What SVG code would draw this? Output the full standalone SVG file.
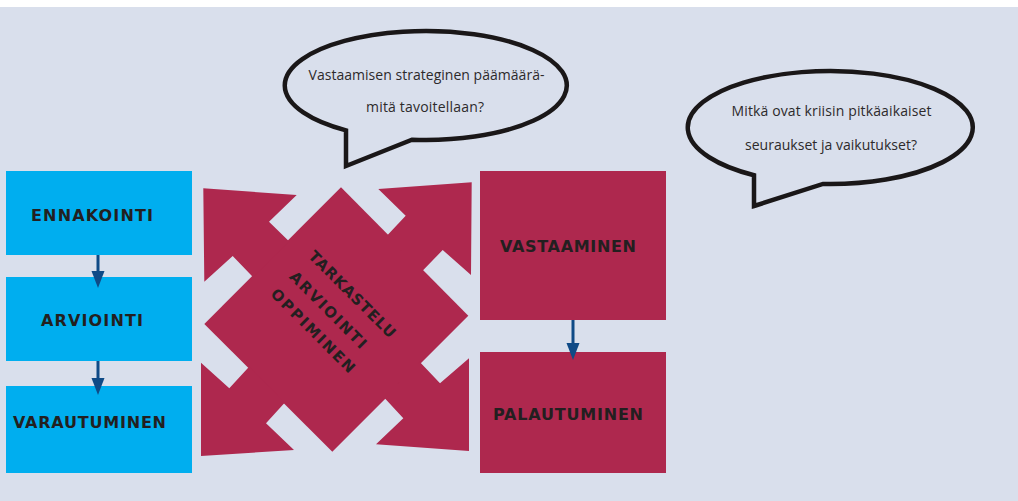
<svg xmlns="http://www.w3.org/2000/svg" width="1018" height="501" viewBox="0 0 1018 501">
<defs>
<style>
.blue{fill:#00aeef}
.red{fill:#ae284e}
.lbl{font-family:"DejaVu Sans","Noto Sans",sans-serif;font-weight:700;font-size:16px;fill:#231f20}
.ctr{font-family:"DejaVu Sans","Noto Sans",sans-serif;font-weight:700;font-size:15px;fill:#231f20;text-anchor:middle}
.bub{fill:#d9dfec;stroke:#1a1718;stroke-width:4.5;stroke-linejoin:miter}
.btxt{font-family:"Open Sans","Noto Sans","Liberation Sans",sans-serif;font-size:14px;fill:#2d2a2b;text-anchor:middle}
.conn{stroke:#0f4a86;stroke-width:3;fill:none}
</style>
<marker id="ah" viewBox="0 -7 17 14" markerWidth="17" markerHeight="14" refX="7" refY="0" markerUnits="userSpaceOnUse" orient="auto">
<path d="M0,-6.5 L17,0 L0,6.5 Z" fill="#0f4a86"/>
</marker>
</defs>
<rect x="0" y="0" width="1018" height="501" fill="#ffffff"/>
<rect x="0" y="7" width="1018" height="494" fill="#d9dfec"/>

<g id="ennakointi"><rect class="blue" x="6" y="171" width="186" height="84"/><text class="lbl" x="31" y="221" textLength="122">ENNAKOINTI</text></g>
<g id="arviointi"><rect class="blue" x="6" y="277" width="186" height="84"/><text class="lbl" x="41" y="326" textLength="102">ARVIOINTI</text></g>
<g id="varautuminen"><rect class="blue" x="6" y="386" width="186" height="87"/><text class="lbl" x="13" y="428" textLength="153">VARAUTUMINEN</text></g>

<g id="vastaaminen"><rect class="red" x="480" y="171" width="186" height="149"/><text class="lbl" x="500" y="252" textLength="136">VASTAAMINEN</text></g>
<g id="palautuminen"><rect class="red" x="480" y="352" width="186" height="121"/><text class="lbl" x="493" y="420" textLength="150">PALAUTUMINEN</text></g>

<g id="center">
<polygon class="red" points="341,187.3 468.3,315.7 332.3,451.7 204.3,324"/>
<polygon class="red" points="203.3,188.3 296.7,195 269,221.7 287.7,240 289.2,241.5 253.2,277.2 251.7,275.7 232.7,256 204.3,281.7"/>
<polygon class="red" points="378.3,189 471.7,182.3 471,275 442.7,250 423.3,270 421.8,271.5 386.8,235.8 388.3,234.3 405.7,215.7"/>
<polygon class="red" points="469,358.3 469,451 376,444.3 403.3,418.3 385.7,399.3 384.2,397.8 419.5,361.8 421,363.3 440,383.3"/>
<polygon class="red" points="201,362.7 229.3,388.3 247.7,368.3 249.2,366.8 284.8,402.8 283.3,404.3 266,423.3 294,450 201,456"/>
<g transform="translate(328,310) rotate(45)">
<text class="ctr" x="6" y="-23" textLength="116">TARKASTELU</text>
<text class="ctr" x="0" y="5" textLength="102">ARVIOINTI</text>
<text class="ctr" x="4" y="30.5" textLength="112">OPPIMINEN</text>
</g>
</g>

<g id="bubble1">
<path class="bub" d="M346,166 L412,139.7 A141,54.5 0 1 0 346,130.4 Z"/>
<text class="btxt" x="426.5" y="80" textLength="236">Vastaamisen strateginen päämäärä-</text>
<text class="btxt" x="425" y="112" textLength="118">mitä tavoitellaan?</text>
</g>

<g id="bubble2">
<path class="bub" d="M754,206 L823,183.9 A142.5,56.5 0 1 0 754,175.2 Z"/>
<text class="btxt" x="831.5" y="116" textLength="200">Mitkä ovat kriisin pitkäaikaiset</text>
<text class="btxt" x="831" y="150" textLength="172">seuraukset ja vaikutukset?</text>
</g>

<g id="connectors">
<line class="conn" x1="98" y1="255" x2="98" y2="278" marker-end="url(#ah)"/>
<line class="conn" x1="98" y1="361" x2="98" y2="385" marker-end="url(#ah)"/>
<line class="conn" x1="573" y1="320" x2="573" y2="350" marker-end="url(#ah)"/>
</g>
</svg>
